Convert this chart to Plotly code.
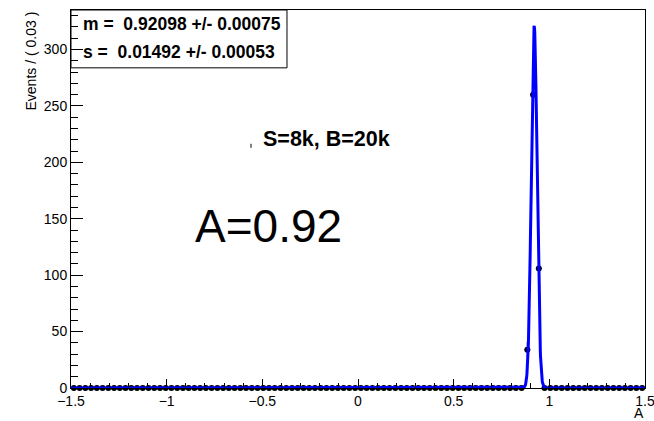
import numpy as np
import plotly.graph_objects as go

# ---- data ----
x_min, x_max, n_bins = -1.5, 1.5, 100
counts = [0] * 79 + [34, 260, 106] + [0] * 18
err_hi = [1.84] * 79 + [6.9, 17.1, 11.3] + [1.84] * 18
err_lo = [0.0] * 79 + [5.8, 16.1, 10.3] + [0.0] * 18
fit_mean, fit_mean_err = 0.92098, 0.00075
fit_sigma, fit_sigma_err = 0.01492, 0.00053
label_sb = "S=8k, B=20k"
label_a = "A=0.92"
x_tick_labels = ["\u22121.5", "\u22121", "\u22120.5", "0", "0.5", "1", "1.5"]
y_title = "Events / ( 0.03 )"
x_title = "A"

bin_w = (x_max - x_min) / n_bins
centers = [x_min + bin_w * (i + 0.5) for i in range(n_bins)]

# fitted gaussian curve (from the displayed parameters, normalised to data)
n_tot = sum(counts)
xc = np.linspace(x_min, x_max, 3001)
yc = n_tot * bin_w / (fit_sigma * np.sqrt(2 * np.pi)) * np.exp(-0.5 * ((xc - fit_mean) / fit_sigma) ** 2)

font = "Liberation Sans, Arial, Helvetica, sans-serif"

fig = go.Figure()
fig.add_trace(go.Scatter(
    x=centers, y=counts, mode="markers",
    marker=dict(color="black", size=6),
    error_x=dict(type="constant", value=bin_w / 2, width=0, thickness=1, color="black"),
    error_y=dict(type="data", symmetric=False, array=err_hi, arrayminus=err_lo,
                 width=0, thickness=1, color="black"),
    cliponaxis=False, showlegend=False,
))
fig.add_trace(go.Scatter(
    x=xc, y=yc, mode="lines", line=dict(color="#0000ff", width=3),
    cliponaxis=False, showlegend=False,
))

tickvals = [x_min + 0.5 * i for i in range(7)]

fig.update_layout(
    width=654, height=421,
    margin=dict(l=71, r=9, t=10, b=33),
    paper_bgcolor="white", plot_bgcolor="white",
    font=dict(family=font, color="black", size=14),
    xaxis=dict(
        range=[x_min, x_max], tickmode="array", tickvals=tickvals, ticktext=x_tick_labels,
        ticks="inside", ticklen=9, tickcolor="black", tickwidth=1,
        minor=dict(dtick=0.1, tick0=0, ticks="inside", ticklen=5, tickcolor="black"),
        showline=True, linecolor="black", linewidth=1, mirror=True,
        showgrid=False, zeroline=False, tickfont=dict(size=14),
        ticklabeloverflow="allow", automargin=False,
    ),
    yaxis=dict(
        range=[0, 335], tickmode="linear", tick0=0, dtick=50,
        ticks="inside", ticklen=12, tickcolor="black", tickwidth=1,
        minor=dict(dtick=10, ticks="inside", ticklen=7, tickcolor="black"),
        showline=True, linecolor="black", linewidth=1, mirror=True,
        showgrid=False, zeroline=False, tickfont=dict(size=14),
        ticklabeloverflow="allow", automargin=False,
    ),
)

# stats box
fig.add_shape(type="rect", xref="paper", yref="paper", x0=0, x1=0.3763, y0=0.847, y1=1.0,
              line=dict(color="black", width=1), fillcolor="rgba(0,0,0,0)")
fig.add_annotation(xref="paper", yref="paper", x=0.017, y=0.963, xanchor="left", yanchor="middle",
                   text=f"<b>m =  {fit_mean:.5f} +/- {fit_mean_err:.5f}</b>", showarrow=False,
                   font=dict(size=17.5))
fig.add_annotation(xref="paper", yref="paper", x=0.017, y=0.889, xanchor="left", yanchor="middle",
                   text=f"<b>s =  {fit_sigma:.5f} +/- {fit_sigma_err:.5f}</b>", showarrow=False,
                   font=dict(size=17.5))

fig.add_annotation(xref="paper", yref="paper", x=(326 - 71) / 574, y=(388.6 - 139) / 378.6,
                   text=f"<b>{label_sb}</b>", showarrow=False, font=dict(size=21.5))
fig.add_shape(type="line", xref="paper", yref="paper",
              x0=(251 - 71) / 574, x1=(251 - 71) / 574,
              y0=(388.6 - 148) / 378.6, y1=(388.6 - 144) / 378.6,
              line=dict(color="black", width=1))
fig.add_annotation(xref="paper", yref="paper", x=(268 - 71) / 574, y=(388.6 - 226) / 378.6,
                   text=label_a, showarrow=False, font=dict(size=46))

fig.add_annotation(xref="paper", yref="paper", x=(30 - 71) / 574, y=1.0, xanchor="center", yanchor="top",
                   text=y_title, textangle=-90, showarrow=False, font=dict(size=14))
fig.add_annotation(xref="paper", yref="paper", x=1.0, y=(388.6 - 413.5) / 378.6, xanchor="right", yanchor="middle",
                   text=x_title, showarrow=False, font=dict(size=14), borderpad=0)

fig.write_html("out.html")
